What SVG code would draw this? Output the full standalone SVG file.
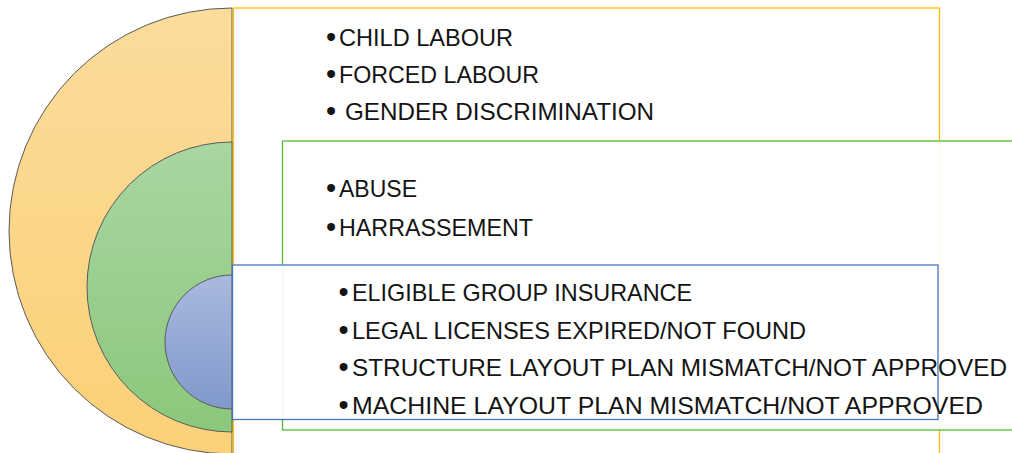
<svg xmlns="http://www.w3.org/2000/svg" width="1012" height="453" viewBox="0 0 1012 453">
<defs>
<linearGradient id="gOr" x1="0" y1="0" x2="0" y2="1"><stop offset="0" stop-color="#fcdc9c"/><stop offset="1" stop-color="#fbd177"/></linearGradient>
<linearGradient id="gGr" x1="0" y1="0" x2="0" y2="1"><stop offset="0" stop-color="#a9d6a1"/><stop offset="1" stop-color="#8bc87b"/></linearGradient>
<linearGradient id="gBl" x1="0" y1="0" x2="0" y2="1"><stop offset="0" stop-color="#aab9df"/><stop offset="1" stop-color="#8099cb"/></linearGradient>
</defs>
<style>
.arc{stroke:#5a5a5a;stroke-width:1}
.box{fill:#ffffff;fill-opacity:0.93;stroke-width:1.3}
.t{font-family:"Liberation Sans",Arial,sans-serif;font-size:24px;fill:#141414}
.b{font-family:"Liberation Sans",Arial,sans-serif;font-size:29px;fill:#141414}
</style>
<rect width="1012" height="453" fill="#ffffff"/>
<g id="semicircles">
<path class="arc" d="M232,8 A223,223 0 0 0 232,454 Z" fill="url(#gOr)"/>
<path class="arc" d="M232,142 A145,145 0 0 0 232,432 Z" fill="url(#gGr)"/>
<path class="arc" d="M232,275 A67,67 0 0 0 232,409 Z" fill="url(#gBl)"/>
</g>
<g id="box-orange">
<rect class="box" x="233.5" y="8" width="706" height="460" stroke="#ffc000"/>
<text class="b" x="326" y="47">•</text>
<text class="t" x="339" y="46" textLength="174" lengthAdjust="spacingAndGlyphs">CHILD LABOUR</text>
<text class="b" x="326" y="84">•</text>
<text class="t" x="339" y="83" textLength="200" lengthAdjust="spacingAndGlyphs">FORCED LABOUR</text>
<text class="b" x="326" y="121">•</text>
<text class="t" x="345" y="120" textLength="309" lengthAdjust="spacingAndGlyphs">GENDER DISCRIMINATION</text>
</g>
<g id="box-green">
<rect class="box" x="282.5" y="141" width="740" height="289" stroke="#52bd33"/>
<text class="b" x="326" y="198">•</text>
<text class="t" x="339" y="197" textLength="78" lengthAdjust="spacingAndGlyphs">ABUSE</text>
<text class="b" x="326" y="237">•</text>
<text class="t" x="339" y="236" textLength="194" lengthAdjust="spacingAndGlyphs">HARRASSEMENT</text>
</g>
<g id="box-blue">
<rect class="box" x="232.5" y="265" width="705.5" height="154.5" stroke="#4a75c4"/>
<text class="b" x="338.5" y="302">•</text>
<text class="t" x="352" y="301" textLength="340" lengthAdjust="spacingAndGlyphs">ELIGIBLE GROUP INSURANCE</text>
<text class="b" x="338.5" y="339.5">•</text>
<text class="t" x="352" y="338.5" textLength="454" lengthAdjust="spacingAndGlyphs">LEGAL LICENSES EXPIRED/NOT FOUND</text>
<text class="b" x="338.5" y="377">•</text>
<text class="t" x="352" y="376" textLength="655" lengthAdjust="spacingAndGlyphs">STRUCTURE LAYOUT PLAN MISMATCH/NOT APPROVED</text>
<text class="b" x="338.5" y="414.5">•</text>
<text class="t" x="352" y="413.5" textLength="631" lengthAdjust="spacingAndGlyphs">MACHINE LAYOUT PLAN MISMATCH/NOT APPROVED</text>
</g>
<g id="connectors"></g>
</svg>
